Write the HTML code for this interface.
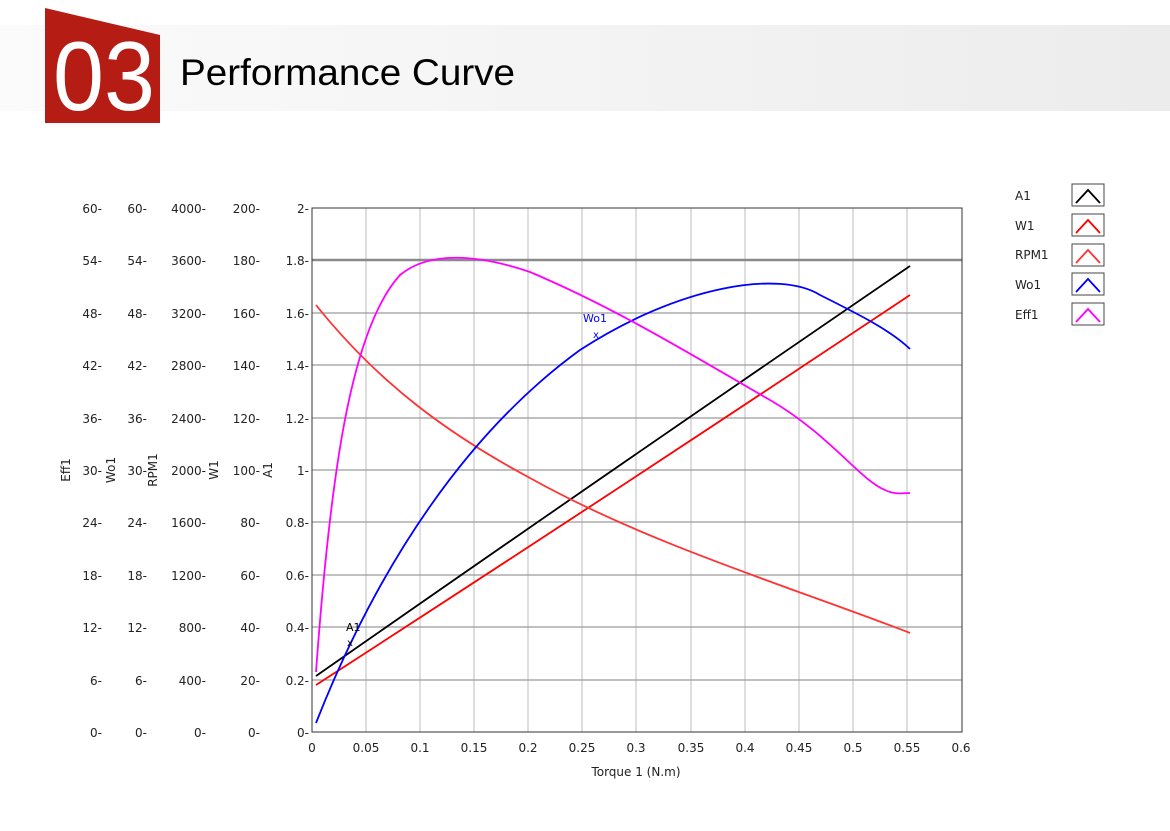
<!DOCTYPE html>
<html><head><meta charset="utf-8"><style>
html,body{margin:0;padding:0;background:#fff;width:1170px;height:831px;overflow:hidden}
svg{display:block;font-family:"DejaVu Sans","Liberation Sans",sans-serif}
</style></head><body>
<svg width="1170" height="831" viewBox="0 0 1170 831" xmlns="http://www.w3.org/2000/svg">
<defs><linearGradient id="g" x1="0" x2="1"><stop offset="0" stop-color="#fbfbfb"/><stop offset="1" stop-color="#ececec"/></linearGradient></defs>
<rect x="0" y="25" width="1170" height="86" fill="url(#g)"/>
<polygon points="45,8 160,35 160,123 45,123" fill="#b41c14"/>
<text x="53" y="110" font-family="Liberation Sans" font-size="98" fill="#fff" textLength="102" lengthAdjust="spacingAndGlyphs">03</text>
<text x="180" y="85" font-family="Liberation Sans" font-size="37" fill="#000" textLength="335" lengthAdjust="spacingAndGlyphs">Performance Curve</text>

<g stroke="#bdbdbd" stroke-width="1">
<line x1="366" y1="208" x2="366" y2="732"/><line x1="420" y1="208" x2="420" y2="732"/><line x1="474" y1="208" x2="474" y2="732"/><line x1="528" y1="208" x2="528" y2="732"/><line x1="582" y1="208" x2="582" y2="732"/><line x1="636" y1="208" x2="636" y2="732"/><line x1="691" y1="208" x2="691" y2="732"/><line x1="745" y1="208" x2="745" y2="732"/><line x1="799" y1="208" x2="799" y2="732"/><line x1="853" y1="208" x2="853" y2="732"/><line x1="907" y1="208" x2="907" y2="732"/>
</g>
<g stroke="#9a9a9a" stroke-width="1.3">
<line x1="312" y1="313" x2="962" y2="313"/><line x1="312" y1="365" x2="962" y2="365"/><line x1="312" y1="418" x2="962" y2="418"/><line x1="312" y1="470" x2="962" y2="470"/><line x1="312" y1="522" x2="962" y2="522"/><line x1="312" y1="575" x2="962" y2="575"/><line x1="312" y1="627" x2="962" y2="627"/><line x1="312" y1="680" x2="962" y2="680"/>
</g>
<line x1="312" y1="260" x2="962" y2="260" stroke="#8a8a8a" stroke-width="2.5"/>
<rect x="312" y="208" width="650" height="524" fill="none" stroke="#333" stroke-width="1"/>

<g font-size="12" fill="#222" text-anchor="middle">
<text x="312" y="752">0</text><text x="366" y="752">0.05</text><text x="420" y="752">0.1</text><text x="474" y="752">0.15</text><text x="528" y="752">0.2</text><text x="582" y="752">0.25</text><text x="636" y="752">0.3</text><text x="691" y="752">0.35</text><text x="745" y="752">0.4</text><text x="799" y="752">0.45</text><text x="853" y="752">0.5</text><text x="907" y="752">0.55</text><text x="961" y="752">0.6</text>
<text x="636" y="776">Torque 1 (N.m)</text>
</g>
<g font-size="12" fill="#222" text-anchor="end">
<text x="309" y="213">2-</text><text x="309" y="265">1.8-</text><text x="309" y="318">1.6-</text><text x="309" y="370">1.4-</text><text x="309" y="423">1.2-</text><text x="309" y="475">1-</text><text x="309" y="527">0.8-</text><text x="309" y="580">0.6-</text><text x="309" y="632">0.4-</text><text x="309" y="685">0.2-</text><text x="309" y="737">0-</text>
<text x="260" y="213">200-</text><text x="260" y="265">180-</text><text x="260" y="318">160-</text><text x="260" y="370">140-</text><text x="260" y="423">120-</text><text x="260" y="475">100-</text><text x="260" y="527">80-</text><text x="260" y="580">60-</text><text x="260" y="632">40-</text><text x="260" y="685">20-</text><text x="260" y="737">0-</text>
<text x="206" y="213">4000-</text><text x="206" y="265">3600-</text><text x="206" y="318">3200-</text><text x="206" y="370">2800-</text><text x="206" y="423">2400-</text><text x="206" y="475">2000-</text><text x="206" y="527">1600-</text><text x="206" y="580">1200-</text><text x="206" y="632">800-</text><text x="206" y="685">400-</text><text x="206" y="737">0-</text>
<text x="147" y="213">60-</text><text x="147" y="265">54-</text><text x="147" y="318">48-</text><text x="147" y="370">42-</text><text x="147" y="423">36-</text><text x="147" y="475">30-</text><text x="147" y="527">24-</text><text x="147" y="580">18-</text><text x="147" y="632">12-</text><text x="147" y="685">6-</text><text x="147" y="737">0-</text>
<text x="102" y="213">60-</text><text x="102" y="265">54-</text><text x="102" y="318">48-</text><text x="102" y="370">42-</text><text x="102" y="423">36-</text><text x="102" y="475">30-</text><text x="102" y="527">24-</text><text x="102" y="580">18-</text><text x="102" y="632">12-</text><text x="102" y="685">6-</text><text x="102" y="737">0-</text>
</g>
<g font-size="12" fill="#222" text-anchor="middle">
<text transform="translate(70,470) rotate(-90)">Eff1</text>
<text transform="translate(115,470) rotate(-90)">Wo1</text>
<text transform="translate(157,470) rotate(-90)">RPM1</text>
<text transform="translate(218,470) rotate(-90)">W1</text>
<text transform="translate(272,470) rotate(-90)">A1</text>
</g>

<g fill="none" stroke-width="1.8" stroke-linejoin="round">
<path d="M316,676 Q600,478 910,266" stroke="#000"/>
<path d="M316,685 Q610,495 910,295" stroke="#f00"/>
<path stroke="#f33" d="M316,305 C380,385 450,435 530,478 C650,545 800,590 910,633"/>
<path stroke="#00f" d="M316,723 C380,560 470,430 580,350 C680,285 780,270 820,295 C860,315 890,330 910,349"/>
<path stroke="#f0f" d="M316,672 C330,480 350,330 400,275 C430,250 480,255 530,272 C620,310 700,360 770,400 C830,435 860,480 885,490 C895,495 905,493 910,493"/>
</g>
<text x="346" y="631" font-size="11" fill="#000">A1</text>
<text x="347" y="646" font-size="10" fill="#000">x</text>
<text x="583" y="322" font-size="11" fill="#00f">Wo1</text>
<text x="593" y="338" font-size="10" fill="#00f">x</text>

<g font-size="12" fill="#222">
<text x="1015" y="200">A1</text><text x="1015" y="230">W1</text><text x="1015" y="259">RPM1</text><text x="1015" y="289">Wo1</text><text x="1015" y="319">Eff1</text>
</g>
<g fill="#fff" stroke="#444" stroke-width="1">
<rect x="1072" y="184" width="32" height="22"/><rect x="1072" y="214" width="32" height="22"/><rect x="1072" y="244" width="32" height="22"/><rect x="1072" y="273" width="32" height="22"/><rect x="1072" y="303" width="32" height="22"/>
</g>
<g fill="none" stroke-width="1.8">
<polyline points="1076,203 1088,190 1100,203" stroke="#000"/>
<polyline points="1076,233 1088,220 1100,233" stroke="#f00"/>
<polyline points="1076,263 1088,250 1100,263" stroke="#f33"/>
<polyline points="1076,292 1088,279 1100,292" stroke="#00f"/>
<polyline points="1076,322 1088,309 1100,322" stroke="#f0f"/>
</g>
</svg>
</body></html>
